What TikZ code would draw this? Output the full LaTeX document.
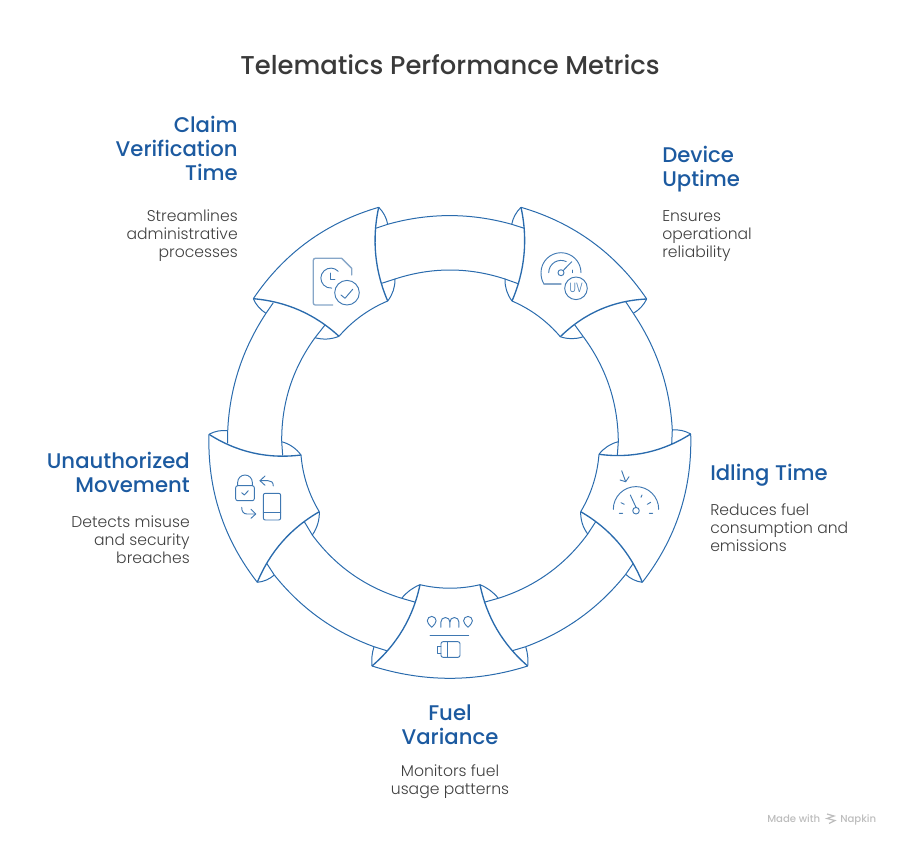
\documentclass[tikz,border=0pt]{standalone}
\usepackage{fontspec}
\usetikzlibrary{calc}
\setmainfont{Poppins}
\newfontfamily\bodyf{Poppins Light}
\newfontfamily\headf{Poppins Medium}
\definecolor{ln}{HTML}{2A6BAD}
\definecolor{ic}{HTML}{3F78B2}
\definecolor{icl}{HTML}{86A6C8}
\definecolor{hd}{HTML}{1C5AA0}
\definecolor{tt}{HTML}{3A3A3A}
\definecolor{bd}{HTML}{404040}
\definecolor{wm}{HTML}{BDBDBD}
\tikzset{
  crv/.style={to path={.. controls ($(\tikztostart)!1/3!(\tikztotarget)!#1 pt!90:(\tikztotarget)$) and ($(\tikztotarget)!1/3!(\tikztostart)!#1 pt!-90:(\tikztostart)$) .. (\tikztotarget)}},
  rim/.style={draw=ln,line width=.75pt,line join=round},
  heavy/.style={draw=ln,line width=1pt,line join=round},
  icon/.style={draw=ic,line width=.7pt,line cap=round,line join=round},
  iconl/.style={draw=icl,line width=1pt,line cap=round,line join=round},
  ttlstyle/.style={inner sep=0,text=tt,font=\headf\fontsize{19.35}{24}\selectfont},
  headstyle/.style={inner sep=0,text=hd,font=\headf\fontsize{15.9}{18}\selectfont},
  bodystyle/.style={inner sep=0,text=bd,font=\bodyf\fontsize{11.7}{13.5}\selectfont},
  wmstyle/.style={inner sep=0,text=wm,font=\headf\fontsize{7.6}{9}\selectfont}
}
\begin{document}
\begin{tikzpicture}[x=.75pt,y=-.75pt]
\useasboundingbox (0,0) rectangle (900,846);
% Claim corners
\coordinate (a1) at (253.3,298.7); \coordinate (a2) at (378.7,207.3); \coordinate (a3) at (387.7,301); \coordinate (a4) at (339,336.3);
\coordinate (a5) at (387.7,224.3); \coordinate (a6) at (375.7,228.3); \coordinate (a7) at (395,279); \coordinate (a8) at (381.7,283.3);
\coordinate (a9) at (273.3,302.7); \coordinate (a10) at (266,313.3); \coordinate (a11) at (325,325); \coordinate (a12) at (315,337.7);
% Device corners
\coordinate (b1) at (521,207.3); \coordinate (b2) at (646.7,299); \coordinate (b3) at (560.3,336.7); \coordinate (b4) at (512,301);
\coordinate (b5) at (511.7,224.3); \coordinate (b6) at (524.3,228.3); \coordinate (b7) at (505,279); \coordinate (b8) at (519,284);
\coordinate (b9) at (625.7,301.7); \coordinate (b10) at (633.3,313.3); \coordinate (b11) at (574.3,324.3); \coordinate (b12) at (583.3,336.7);
% Idling corners
\coordinate (c1) at (690.7,434); \coordinate (c2) at (642.3,582.3); \coordinate (c3) at (580.7,511.7); \coordinate (c4) at (599,454.3);
\coordinate (c5) at (672.3,430); \coordinate (c6) at (671.7,444); \coordinate (c7) at (618.3,441.7); \coordinate (c8) at (617.3,455.7);
\coordinate (c9) at (595.7,521.7); \coordinate (c10) at (587.7,534); \coordinate (c11) at (633.3,563.3); \coordinate (c12) at (625.7,574.3);
% Fuel corners
\coordinate (d1) at (527.7,666); \coordinate (d2) at (372,666); \coordinate (d3) at (420,584.7); \coordinate (d4) at (480,584.7);
\coordinate (d5) at (525.7,646.7); \coordinate (d6) at (512.3,650.7); \coordinate (d7) at (498.3,598.3); \coordinate (d8) at (484,602.3);
\coordinate (d9) at (374,646.7); \coordinate (d10) at (386.7,650.7); \coordinate (d11) at (401.7,598.3); \coordinate (d12) at (415.7,602.3);
% Unauthorized corners
\coordinate (e1) at (257.3,582.3); \coordinate (e2) at (209,434.3); \coordinate (e3) at (301,455); \coordinate (e4) at (319.3,511.7);
\coordinate (e5) at (227.7,430.7); \coordinate (e6) at (227.7,443.3); \coordinate (e7) at (281.7,441.7); \coordinate (e8) at (282.7,455.7);
\coordinate (e9) at (304.3,521.7); \coordinate (e10) at (312.3,535); \coordinate (e11) at (266.7,563.3); \coordinate (e12) at (274.3,575);

% Claim shape
\draw[rim] (a1) to[crv=14] (a2);
\draw[heavy] (a2) to[crv=-7.5] (a3);
\draw[rim] (a4) to[crv=3.5] (a3);
\draw[heavy] (a1) to[crv=8] (a4);
\draw[rim] (a2) to[crv=1.5] (a5);
\draw[rim] (a7) to[crv=2] (a3);
\draw[rim] (a1) to[crv=-1.5] (a10);
\draw[rim] (a12) to[crv=-2] (a4);
\draw[rim] (a9) -- (a10) (a11) -- (a12);
% Device shape
\draw[rim] (b1) to[crv=14] (b2);
\draw[heavy] (b1) to[crv=7.5] (b4);
\draw[rim] (b4) to[crv=3.5] (b3);
\draw[heavy] (b3) to[crv=9] (b2);
\draw[rim] (b5) to[crv=1.5] (b1);
\draw[rim] (b4) to[crv=2] (b7);
\draw[rim] (b2) to[crv=1.5] (b10);
\draw[rim] (b3) to[crv=-2] (b12);
\draw[rim] (b9) -- (b10) (b11) -- (b12);
% Idling shape
\draw[rim] (c1) to[crv=14] (c2);
\draw[heavy] (c4) to[crv=-8.5] (c1);
\draw[rim] (c4) to[crv=3.5] (c3);
\draw[heavy] (c3) to[crv=8] (c2);
\draw[rim] (c5) to[crv=1.5] (c1);
\draw[rim] (c7) to[crv=-2] (c4);
\draw[rim] (c3) to[crv=-2] (c10);
\draw[rim] (c12) to[crv=-1.5] (c2);
\draw[rim] (c9) -- (c10) (c11) -- (c12);
% Fuel shape
\draw[rim] (d1) to[crv=12.3] (d2);
\draw[heavy] (d2) to[crv=-8] (d3);
\draw[rim] (d3) to[crv=-3.5] (d4);
\draw[heavy] (d4) to[crv=-8] (d1);
\draw[rim] (d4) to[crv=1.5] (d7);
\draw[rim] (d5) to[crv=1] (d1);
\draw[rim] (d2) to[crv=1] (d9);
\draw[rim] (d11) to[crv=1.5] (d3);
\draw[rim] (d8) -- (d7) (d6) -- (d5) (d10) -- (d9) (d12) -- (d11);
% Unauthorized shape
\draw[rim] (e1) to[crv=14] (e2);
\draw[heavy] (e2) to[crv=-8.5] (e3);
\draw[rim] (e4) to[crv=3.5] (e3);
\draw[heavy] (e1) to[crv=8] (e4);
\draw[rim] (e2) to[crv=1.5] (e5);
\draw[rim] (e7) to[crv=2] (e3);
\draw[rim] (e4) to[crv=2] (e10);
\draw[rim] (e1) to[crv=-1.5] (e12);
\draw[rim] (e6) -- (e5) (e8) -- (e7) (e9) -- (e10) (e11) -- (e12);
% Ribbons
\draw[rim] (a6) -- (a5) to[crv=8.7] (b5) -- (b6);
\draw[rim] (a8) -- (a7) to[crv=9] (b7) -- (b8);
\draw[rim] (b10) to[crv=8.5] (c5) -- (c6);
\draw[rim] (b12) to[crv=9] (c7) -- (c8);
\draw[rim] (c12) to[crv=8.6] (d5);
\draw[rim] (c10) to[crv=9] (d7);
\draw[rim] (d9) to[crv=8.6] (e12);
\draw[rim] (d11) to[crv=9] (e10);
\draw[rim] (e5) to[crv=8.5] (a10);
\draw[rim] (e7) to[crv=9] (a12);

% Claim icon
\draw[iconl] (332.7,305) -- (315.3,305) arc[start angle=90,end angle=180,radius=2] -- (313.3,260.3) arc[start angle=180,end angle=270,radius=2] -- (341.7,258.3) -- (351.7,268.3) -- (351.7,275);
\draw[icon] (338.2,271.3) arc[start angle=-43,end angle=-275,radius=10];
\draw[icon] (330.7,273) -- (330.7,279.3) -- (335,279.3);
\draw[icon] (347,292.7) circle[radius=12.3];
\draw[icon] (341,295) -- (345,298.3) -- (352.7,289.3);
% Device icon
\draw[icon] (581,272.7) arc[start angle=0,end angle=-180,radius=20] .. controls (541,277) and (542,281) .. (544,284);
\draw[iconl] (544,284) -- (561,284);
\draw[icon] (548.7,272.7) arc[start angle=-180,end angle=-65,radius=12.3];
\draw[icon] (561,272.7) circle[radius=3];
\draw[icon] (563,270.7) -- (571.7,261.7);
\draw[icon] (572.7,270) -- (572.7,272.7);
\draw[icon] (576,288.3) circle[radius=11.3];
\node[inner sep=0,text=ic,font=\bodyf\fontsize{8}{8}\selectfont] (uv) at (576,288.3) {\scalebox{.95}[1.25]{UV}};
% Idling icon
\draw[icon] (621.7,470.7) -- (625.7,481.7);
\draw[icon] (620,480) -- (625.7,481.7) -- (629,476.7);
\draw[icon] (613.3,509.3) arc[start angle=180,end angle=360,radius=22.7];
\draw[icon] (636,510.7) circle[radius=3.3];
\draw[icon] (636,507.3) -- (630.3,495);
\draw[icon] (621,502.7) -- (624.3,504.3) (619.3,513.3) -- (622.7,513.3) (649.3,513.3) -- (652.7,513.3) (647.3,504.3) -- (650.7,502.3) (641,497.3) -- (642,495);
% Fuel icon
\draw[icon] (431.7,627.3) .. controls (429,624.5) and (427.3,622.8) .. (427.3,620.8) arc[start angle=180,end angle=360,radius=4.4] .. controls (436.1,622.8) and (434.4,624.5) .. (431.7,627.3);
\draw[icon] (468,627.3) .. controls (465.3,624.5) and (463.6,622.8) .. (463.6,620.8) arc[start angle=180,end angle=360,radius=4.4] .. controls (472.4,622.8) and (470.7,624.5) .. (468,627.3);
\draw[icon] (440.9,627.3) -- (440.9,622) arc[start angle=180,end angle=360,radius=4.5] -- (449.9,627.3);
\draw[icon] (449.9,622) arc[start angle=180,end angle=360,radius=4.5] -- (458.9,627.3);
\draw[icon] (430,635.3) -- (468.7,635.3);
\draw[icon,rounded corners=1.5pt] (441,641.7) rectangle (460,657.3);
\draw[icon] (447,641.7) -- (447,657.3);
\draw[icon] (441,646) -- (437.5,646) -- (437.5,653.3) -- (441,653.3);
% Unauthorized icon
\draw[icon,rounded corners=1.5pt] (235.7,485.7) rectangle (254.3,500.7);
\draw[icon] (237.7,485.7) -- (237.7,482.3) arc[start angle=180,end angle=360,radius=7.3] -- (252.3,485.7);
\draw[icon] (241.7,492.7) -- (244.3,495) -- (248.3,490.7);
\draw[icon] (273.3,486) .. controls (273.3,482) and (271,480.7) .. (268,480.7) -- (260,480.7);
\draw[icon] (265,476) -- (260,480.7) -- (265,485.3);
\draw[icon,rounded corners=1.5pt] (263.3,493.3) rectangle (280.7,520);
\draw[icon] (263.3,512.3) -- (280.7,512.3);
\draw[icon] (241.7,507.3) .. controls (241.7,511.5) and (243.5,514) .. (247,514) -- (255.7,514);
\draw[icon] (251,509.3) -- (255.7,514) -- (251,518.3);

% Text
\node[ttlstyle,anchor=base] (ttl) at (450,74) {Telematics Performance Metrics};
\node[headstyle,anchor=base east,align=right] (h1) at (238,180) {Claim\\Verification\\Time};
\node[bodystyle,anchor=base east,align=right] (t1) at (238,257) {Streamlines\\administrative\\processes};
\node[headstyle,anchor=base west,align=left] (h2) at (662,186) {Device\\Uptime};
\node[bodystyle,anchor=base west,align=left] (t2) at (662,257) {Ensures\\operational\\reliability};
\node[headstyle,anchor=base west,align=left] (h3) at (710,480) {Idling Time};
\node[bodystyle,anchor=base west,align=left] (t3) at (710,551) {Reduces fuel\\consumption and\\emissions};
\node[headstyle,anchor=base,align=center] (h4) at (450,744) {Fuel\\Variance};
\node[bodystyle,anchor=base,align=center] (t4) at (450,794) {Monitors fuel\\usage patterns};
\node[headstyle,anchor=base east,align=right] (h5) at (190,492) {Unauthorized\\Movement};
\node[bodystyle,anchor=base east,align=right] (t5) at (190,563) {Detects misuse\\and security\\breaches};
% Watermark
\node[wmstyle,anchor=base west] (m1) at (767,822) {Made with};
\node[wmstyle,anchor=base west] (m2) at (840,822) {Napkin};
\draw[draw=wm,line width=.9pt] (827,814) -- (834,816) -- (827,818.5) -- (835,820.5) -- (829,823.5);
\end{tikzpicture}
\end{document}
